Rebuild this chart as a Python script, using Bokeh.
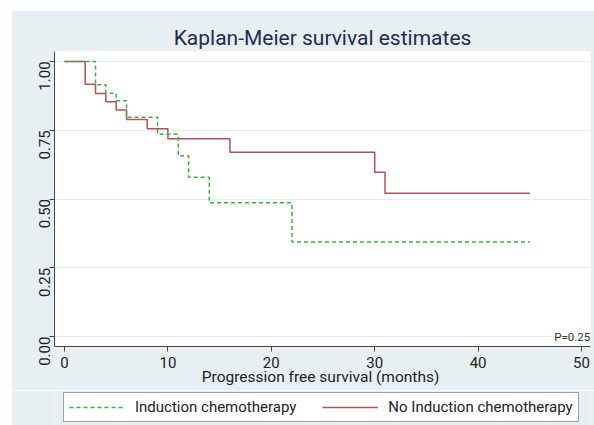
import math
from bokeh.plotting import figure
from bokeh.layouts import column
from bokeh.models import Range1d, FixedTicker, NumeralTickFormatter, Legend, LegendItem, Label
from bokeh.embed import file_html
from bokeh.resources import INLINE

# Data
no_ind_time = [0, 2, 3, 4, 5, 6, 8, 10, 16, 30, 31, 45]
no_ind_surv = [1.0, 0.917, 0.883, 0.853, 0.823, 0.789, 0.755, 0.719, 0.670, 0.597, 0.521, 0.521]
ind_time = [0, 3, 4, 5, 6, 9, 11, 12, 14, 22, 45]
ind_surv = [1.0, 0.915, 0.884, 0.857, 0.797, 0.735, 0.657, 0.579, 0.486, 0.344, 0.344]
x_ticks = [0, 10, 20, 30, 40, 50]
y_ticks = [0.0, 0.25, 0.5, 0.75, 1.0]
title_text = "Kaplan-Meier survival estimates"
x_label = "Progression free survival  (months)"
legend_labels = ["Induction chemotherapy", "No Induction chemotherapy"]
p_text = "P=0.25"

BG = "#e8eff2"
FONT = "Roboto"
RED = "#b5505a"
GREEN = "#3cb043"

p = figure(width=583, height=380, output_backend="svg", toolbar_location=None,
           x_range=Range1d(-0.967, 50.87), y_range=Range1d(-0.036, 1.036),
           min_border_left=43, min_border_right=4, min_border_top=41, min_border_bottom=44)
p.background_fill_color = "white"
p.border_fill_color = BG
p.outline_line_color = None

p.title.text = title_text
p.title.align = "center"
p.title.text_font = FONT
p.title.text_font_size = "21px"
p.title.text_font_style = "normal"
p.title.text_color = "#1e2d4f"
p.title.standoff = 3

xa = p.xaxis[0]
ya = p.yaxis[0]
xa.ticker = FixedTicker(ticks=x_ticks)
ya.ticker = FixedTicker(ticks=y_ticks)
ya.formatter = NumeralTickFormatter(format="0.00")
for ax in (xa, ya):
    ax.axis_line_color = "#444444"
    ax.axis_line_width = 1
    ax.major_tick_line_color = "#444444"
    ax.major_tick_out = 5
    ax.major_tick_in = 0
    ax.minor_tick_line_color = None
    ax.major_label_text_font = FONT
    ax.major_label_text_font_size = "15px"
    ax.major_label_text_color = "#222222"
    ax.major_label_standoff = 5
ya.major_label_orientation = math.pi / 2
xa.axis_label = x_label
xa.axis_label_text_font = FONT
xa.axis_label_text_font_size = "15.5px"
xa.axis_label_text_font_style = "normal"
xa.axis_label_text_color = "#222222"
xa.axis_label_standoff = -3

p.xgrid.grid_line_color = None
p.ygrid.ticker = FixedTicker(ticks=y_ticks)
p.ygrid.grid_line_color = "#e3ecef"
p.ygrid.grid_line_width = 1

p.step(no_ind_time, no_ind_surv, mode="after", line_color=RED, line_width=1.5)
p.step(ind_time, ind_surv, mode="after", line_color=GREEN, line_width=1.5, line_dash="4 3")

lab = Label(x=50.85, y=0.0, text=p_text, text_align="right", text_baseline="middle",
            text_font=FONT, text_font_size="11.5px", text_color="#333333")
p.add_layout(lab)

# legend strip below the plot (its frame is aligned with the main plot's frame)
q = figure(width=583, height=35, output_backend="svg", toolbar_location=None,
           x_range=Range1d(0, 1), y_range=Range1d(5, 6),
           x_axis_type=None, y_axis_type=None,
           min_border_left=0, min_border_right=0, min_border_top=0, min_border_bottom=0)
q.background_fill_color = BG
q.border_fill_color = BG
q.outline_line_color = None
q.xgrid.grid_line_color = None
q.ygrid.grid_line_color = None
# legend proxies: same series, kept outside this strip's visible range
proxy_ind = q.step(ind_time, ind_surv, mode="after", line_color=GREEN, line_width=1.5,
                   line_dash="4 3")
proxy_no = q.step(no_ind_time, no_ind_surv, mode="after", line_color=RED, line_width=1.5)

legend = Legend(items=[LegendItem(label=legend_labels[0], renderers=[proxy_ind]),
                       LegendItem(label=legend_labels[1], renderers=[proxy_no])],
                orientation="horizontal", location=(9, 3))
legend.label_text_font = FONT
legend.label_text_font_size = "15px"
legend.label_text_color = "#222222"
legend.glyph_width = 56
legend.glyph_height = 18
legend.label_height = 18
legend.label_standoff = 10
legend.spacing = 26
legend.padding = 5
legend.margin = 0
legend.border_line_color = "#444444"
legend.border_line_width = 1.5
legend.background_fill_color = "white"
legend.background_fill_alpha = 1
q.add_layout(legend)

layout = column(p, q, spacing=0)
layout.styles = {"margin-left": "11px", "margin-top": "10px"}

open("out.html", "w").write(file_html(layout, INLINE))
